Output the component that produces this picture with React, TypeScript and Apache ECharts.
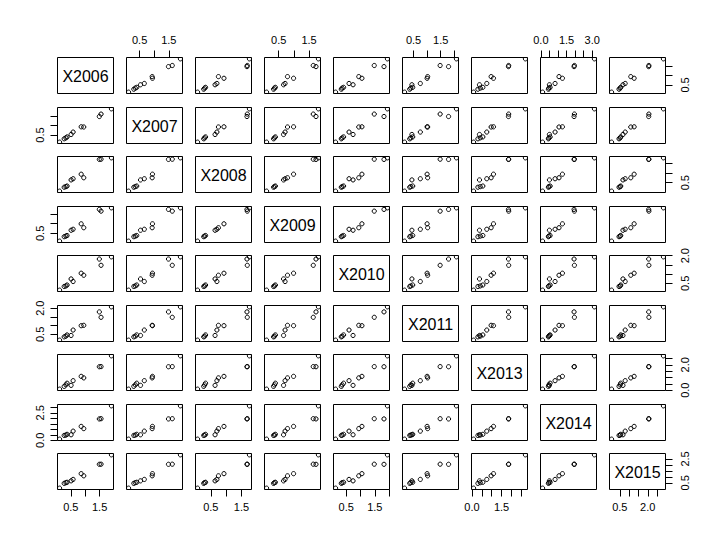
import React, { useEffect, useRef } from "react";
import * as echarts from "echarts";

// ---- data (one value per observation, same order in every array) ----
const varNames = ["X2006", "X2007", "X2008", "X2009", "X2010", "X2011", "X2013", "X2014", "X2015"];
const X2006 = [0.11, 0.27, 0.33, 0.37, 0.51, 0.58, 0.95, 0.86, 1.49, 1.55, 1.91];
const X2007 = [0.12, 0.30, 0.35, 0.40, 0.53, 0.66, 0.93, 0.94, 1.49, 1.62, 1.90];
const X2008 = [0.07, 0.27, 0.30, 0.33, 0.64, 0.70, 0.75, 0.93, 1.68, 1.69, 1.76];
const X2009 = [0.10, 0.33, 0.36, 0.39, 0.66, 0.71, 0.79, 0.99, 1.73, 1.64, 1.81];
const X2010 = [0.13, 0.33, 0.36, 0.41, 0.74, 0.60, 0.94, 1.05, 1.82, 1.48, 1.94];
const X2011 = [0.17, 0.36, 0.40, 0.47, 0.44, 0.75, 1.02, 1.00, 1.79, 1.48, 2.08];
const X2013 = [0.08, 0.30, 0.42, 0.55, 0.38, 0.75, 0.97, 1.09, 1.85, 1.86, 2.71];
const X2014 = [0.10, 0.44, 0.47, 0.54, 0.50, 0.83, 1.06, 1.26, 1.94, 1.96, 3.13];
const X2015 = [0.06, 0.46, 0.52, 0.55, 0.67, 0.79, 1.09, 1.27, 2.05, 2.06, 2.84];
const columns = [X2006, X2007, X2008, X2009, X2010, X2011, X2013, X2014, X2015];

// ---- tick marks per variable ----
const ticks2006 = [0.5, 1, 1.5];
const ticks2007 = [0.5, 1, 1.5];
const ticks2008 = [0.5, 1, 1.5];
const ticks2009 = [0.5, 1, 1.5];
const ticks2010 = [0.5, 1, 1.5, 2];
const ticks2011 = [0.5, 1, 1.5, 2];
const ticks2013 = [0, 0.5, 1, 1.5, 2, 2.5];
const ticks2014 = [0, 0.5, 1, 1.5, 2, 2.5, 3];
const ticks2015 = [0.5, 1, 1.5, 2, 2.5];
const tickSets = [ticks2006, ticks2007, ticks2008, ticks2009, ticks2010, ticks2011, ticks2013, ticks2014, ticks2015];

// ---- tick labels actually printed (outer x axis / outer y axis) ----
const xLabels2006 = [0.5, 1.5];
const xLabels2007 = [0.5, 1.5];
const xLabels2008 = [0.5, 1.5];
const xLabels2009 = [0.5, 1.5];
const xLabels2010 = [0.5, 1.5];
const xLabels2011 = [0.5, 1.5];
const xLabels2013 = [0, 1.5];
const xLabels2014 = [0, 1.5, 3];
const xLabels2015 = [0.5, 2];
const xLabelSets = [xLabels2006, xLabels2007, xLabels2008, xLabels2009, xLabels2010, xLabels2011, xLabels2013, xLabels2014, xLabels2015];

const yLabels2006 = [0.5];
const yLabels2007 = [0.5];
const yLabels2008 = [0.5];
const yLabels2009 = [0.5];
const yLabels2010 = [0.5, 2];
const yLabels2011 = [0.5, 2];
const yLabels2013 = [0, 2];
const yLabels2014 = [0, 2.5];
const yLabels2015 = [0.5, 2.5];
const yLabelSets = [yLabels2006, yLabels2007, yLabels2008, yLabels2009, yLabels2010, yLabels2011, yLabels2013, yLabels2014, yLabels2015];

// ---- layout ----
const N = 9;
const LEFT0 = 57.5;
const COL_STEP = 69;
const TOP0 = 57;
const ROW_STEP = 49.5;
const PW = 56;
const PH = 36;
const FONT = '"Liberation Sans", Arial, Helvetica, sans-serif';

function panelLeft(c: number) {
  return LEFT0 + c * COL_STEP;
}
function panelTop(r: number) {
  return Math.round(TOP0 + r * ROW_STEP) + 0.5;
}

function range(v: number[]) {
  const lo = Math.min(...v);
  const hi = Math.max(...v);
  const ext = (hi - lo) * 0.04;
  return [lo - ext, hi + ext];
}

function buildOption() {
  const grids: any[] = [];
  const xAxes: any[] = [];
  const yAxes: any[] = [];
  const series: any[] = [];
  const graphics: any[] = [];
  const ranges = columns.map(range);

  for (let r = 0; r < N; r++) {
    for (let c = 0; c < N; c++) {
      const idx = r * N + c;
      const left = panelLeft(c);
      const top = panelTop(r);
      grids.push({
        left,
        top,
        width: PW,
        height: PH,
        show: true,
        borderColor: "#000",
        borderWidth: 1,
        backgroundColor: "transparent",
        containLabel: false,
      });

      const showTop = r === 0 && c % 2 === 1;
      const showBottom = r === N - 1 && c % 2 === 0;
      const showLeft = c === 0 && r % 2 === 1;
      const showRight = c === N - 1 && r % 2 === 0;

      xAxes.push({
        gridIndex: idx,
        type: "value",
        min: ranges[c][0],
        max: ranges[c][1],
        position: showTop ? "top" : "bottom",
        show: showTop || showBottom,
        axisLine: { show: false, onZero: false },
        splitLine: { show: false },
        axisTick: {
          show: true,
          length: 7,
          customValues: tickSets[c],
          lineStyle: { color: "#000", width: 1 },
        },
        axisLabel: {
          show: true,
          customValues: xLabelSets[c],
          formatter: (v: number) => v.toFixed(1),
          fontSize: 11,
          fontFamily: FONT,
          color: "#000",
          margin: 12,
        },
      });

      yAxes.push({
        gridIndex: idx,
        type: "value",
        min: ranges[r][0],
        max: ranges[r][1],
        position: showRight ? "right" : "left",
        show: showLeft || showRight,
        axisLine: { show: false, onZero: false },
        splitLine: { show: false },
        axisTick: {
          show: true,
          length: 7,
          customValues: tickSets[r],
          lineStyle: { color: "#000", width: 1 },
        },
        axisLabel: {
          show: true,
          rotate: 90,
          customValues: yLabelSets[r],
          formatter: (v: number) => v.toFixed(1),
          fontSize: 11,
          fontFamily: FONT,
          color: "#000",
          margin: showRight ? 14 : 12,
        },
      });

      if (r === c) {
        graphics.push({
          type: "text",
          x: left + PW / 2,
          y: top + PH / 2 + 1,
          silent: true,
          style: {
            text: varNames[r],
            font: `16px ${FONT}`,
            fill: "#000",
            align: "center",
            verticalAlign: "middle",
          },
        });
      } else {
        const xs = columns[c];
        const ys = columns[r];
        const pts = xs.map((x, i) => [x, ys[i]]);
        series.push({
          type: "custom",
          xAxisIndex: idx,
          yAxisIndex: idx,
          clip: true,
          silent: true,
          data: pts,
          renderItem: (_p: any, api: any) => {
            const p = api.coord([api.value(0), api.value(1)]);
            return {
              type: "circle",
              shape: { cx: p[0], cy: p[1], r: 2.1 },
              style: { fill: "none", stroke: "#000", lineWidth: 1 },
            };
          },
        });
      }
    }
  }

  return {
    animation: false,
    backgroundColor: "#fff",
    grid: grids,
    xAxis: xAxes,
    yAxis: yAxes,
    series,
    graphic: graphics,
  };
}

export default function App() {
  const ref = useRef<HTMLDivElement>(null);
  useEffect(() => {
    if (!ref.current) return;
    const chart = echarts.init(ref.current, null, { renderer: "svg" });
    chart.setOption(buildOption() as any);
    return () => chart.dispose();
  }, []);
  return (
    <div
      ref={ref}
      style={{ position: "fixed", left: 0, top: 0, width: 723, height: 547, background: "#fff" }}
    />
  );
}
